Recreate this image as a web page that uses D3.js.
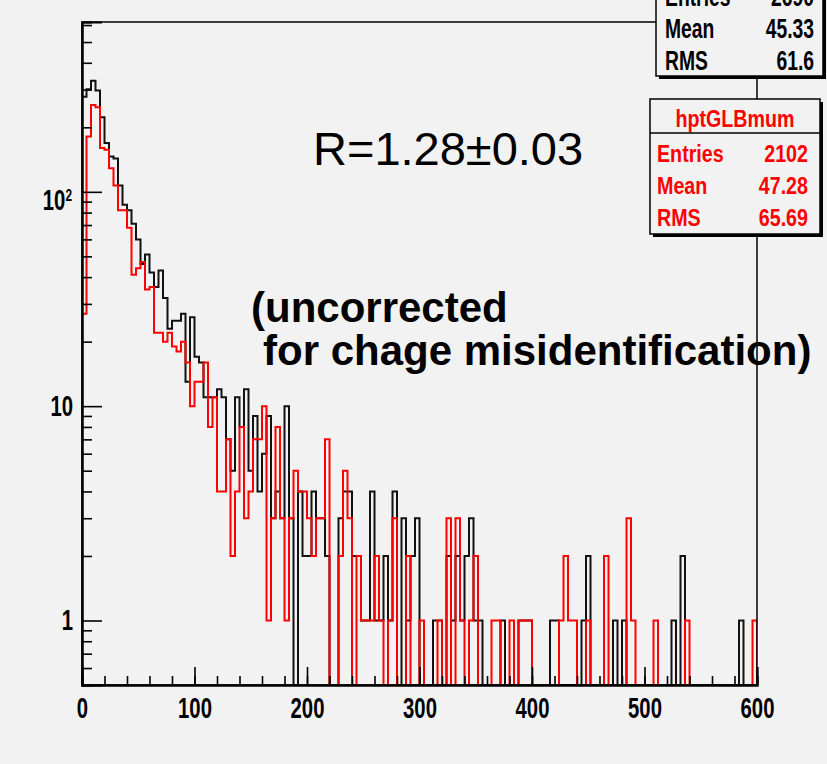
<!DOCTYPE html>
<html>
<head>
<meta charset="utf-8">
<script src="https://cdn.jsdelivr.net/npm/d3@7"></script>
<style>
  body { margin: 0; background: #f2f2f2; }
  svg { display: block; }
</style>
</head>
<body>
<svg id="chart"></svg>
<script>
// bin width 4 GeV, 150 bins from 0 to 600
var binWidth = 4;
var xTicks = [0, 100, 200, 300, 400, 500, 600];
var yTicks = [1, 10, 100];

// hptGLBmup (black)
var blackCounts = [
  278, 301, 330, 297, 223, 169, 146, 143, 107, 87,
  82, 71, 60, 46, 51, 42, 36, 43, 32, 23,
  25, 25, 27, 13, 26, 17, 16, 11, 11, 11,
  12, 11, 7, 5, 11, 8, 12, 5, 9, 4,
  6, 9, 3, 4, 3, 10, 3, 0, 4, 2,
  2, 4, 3, 3, 2, 0, 0, 3, 4, 4,
  2, 2, 1, 1, 4, 1, 1, 2, 1, 4,
  0, 3, 1, 2, 3, 0, 0, 0, 1, 1,
  0, 2, 1, 2, 1, 2, 3, 1, 1, 0,
  0, 0, 0, 1, 0, 0, 0, 1, 1, 1,
  0, 0, 0, 0, 1, 1, 0, 0, 0, 0,
  0, 1, 2, 0, 0, 0, 0, 0, 1, 0,
  1, 0, 0, 0, 0, 0, 0, 0, 0, 0,
  0, 1, 0, 2, 0, 0, 0, 0, 0, 0,
  0, 0, 0, 0, 0, 0, 1, 0, 0, 0
];

// hptGLBmum (red)
var redCounts = [
  27, 181, 254, 248, 160, 157, 129, 107, 82, 82,
  68, 41, 44, 47, 35, 36, 22, 22, 20, 22,
  19, 18, 20, 16, 10, 13, 13, 16, 8, 11,
  4, 4, 7, 2, 4, 8, 3, 4, 7, 7,
  10, 1, 3, 8, 3, 1, 3, 5, 4, 4,
  3, 2, 3, 3, 7, 0, 0, 2, 5, 3,
  0, 2, 1, 1, 1, 2, 1, 0, 1, 3,
  0, 0, 2, 0, 0, 1, 0, 0, 0, 1,
  0, 3, 0, 3, 1, 0, 1, 2, 0, 0,
  0, 1, 1, 0, 0, 1, 0, 1, 1, 1,
  0, 0, 0, 0, 0, 0, 1, 2, 1, 1,
  0, 0, 1, 0, 0, 0, 2, 0, 0, 0,
  0, 3, 1, 0, 0, 0, 0, 1, 0, 0,
  0, 0, 0, 0, 1, 0, 0, 0, 0, 0,
  0, 0, 0, 0, 0, 0, 0, 0, 0, 1
];

var blackStats = [["Entries", "2690"], ["Mean", "45.33"], ["RMS", "61.6"]];
var redTitle = "hptGLBmum";
var redStats = [["Entries", "2102"], ["Mean", "47.28"], ["RMS", "65.69"]];

function main() {
  var svgWidth = 827;
  var svgHeight = 764;
  var frameLeft = 82, frameRight = 757, frameTop = 22, frameBottom = 685;
  var bg = "#f2f2f2";
  var boldFont = "'Liberation Sans', Arial, Helvetica, sans-serif";

  var svg = d3.select("#chart").attr("width", svgWidth).attr("height", svgHeight);
  svg.append("rect").attr("width", svgWidth).attr("height", svgHeight).attr("fill", bg);

  var x = d3.scaleLinear().domain([0, 600]).range([frameLeft, frameRight]);
  var y = d3.scaleLog().domain([0.5, 620]).range([frameBottom, frameTop]);

  svg.append("clipPath").attr("id", "frameClip")
    .append("rect")
    .attr("x", frameLeft).attr("y", frameTop)
    .attr("width", frameRight - frameLeft).attr("height", frameBottom - frameTop);

  function histPoints(counts) {
    var pts = [[x(0), frameBottom]];
    counts.forEach(function (c, i) {
      var yy = c > 0 ? y(c) : frameBottom;
      pts.push([x(i * binWidth), yy]);
      pts.push([x((i + 1) * binWidth), yy]);
    });
    pts.push([x(counts.length * binWidth), frameBottom]);
    return pts;
  }

  var line = d3.line();
  var histNode = svg.append("g").attr("clip-path", "url(#frameClip)");
  histNode.append("path")
    .attr("d", line(histPoints(blackCounts)))
    .attr("fill", "none").attr("stroke", "#111").attr("stroke-width", 2);
  histNode.append("path")
    .attr("d", line(histPoints(redCounts)))
    .attr("fill", "none").attr("stroke", "#ff0000").attr("stroke-width", 2);

  // annotations (under the frame line, as in the ROOT canvas)
  svg.append("text")
    .attr("x", 313).attr("y", 165)
    .style("font-family", boldFont)
    .style("font-size", "47px")
    .attr("fill", "#000")
    .text("R=1.28\u00b10.03");

  var note = svg.append("g")
    .style("font-family", boldFont)
    .style("font-weight", "bold")
    .style("font-size", "42px")
    .attr("fill", "#000");
  note.append("text").attr("x", 251).attr("y", 322).text("(uncorrected");
  note.append("text").attr("x", 263).attr("y", 365).text("for chage misidentification)");

  // frame
  svg.append("rect")
    .attr("x", frameLeft).attr("y", frameTop)
    .attr("width", frameRight - frameLeft).attr("height", frameBottom - frameTop)
    .attr("fill", "none").attr("stroke", "#000").attr("stroke-width", 1.5);

  // x axis, ticks pointing into the frame
  var xMinor = d3.range(0, 601, 20);
  svg.append("g").attr("class", "xminor")
    .attr("transform", `translate(0,${frameBottom})`)
    .call(d3.axisBottom(x).tickValues(xMinor).tickSize(-9).tickFormat(""));
  var xAxisNode = svg.append("g").attr("class", "xaxis")
    .attr("transform", `translate(0,${frameBottom})`)
    .call(d3.axisBottom(x).tickValues(xTicks).tickSize(-18).tickPadding(12).tickFormat(d3.format("d")));

  // y axis, log
  var yMinor = [];
  [0.1, 1, 10, 100].forEach(function (dec) {
    for (var k = 2; k <= 9; k++) {
      var v = k * dec;
      if (v >= 0.5 && v <= 620) yMinor.push(v);
    }
  });
  svg.append("g").attr("class", "yminor")
    .attr("transform", `translate(${frameLeft},0)`)
    .call(d3.axisLeft(y).tickValues(yMinor).tickSize(-10).tickFormat(""));
  var yAxisNode = svg.append("g").attr("class", "yaxis")
    .attr("transform", `translate(${frameLeft},0)`)
    .call(d3.axisLeft(y).tickValues(yTicks).tickSize(-20).tickPadding(9).tickFormat(d3.format("d")));

  svg.selectAll(".xaxis .domain, .yaxis .domain, .xminor .domain, .yminor .domain")
    .attr("stroke", "#000").attr("stroke-width", 2);
  svg.selectAll(".tick line").attr("stroke", "#000").attr("stroke-width", 1.6);
  svg.selectAll(".xaxis text, .yaxis text")
    .attr("fill", "#000")
    .style("font-family", boldFont)
    .style("font-weight", "bold")
    .style("font-size", "29px");

  // narrow the labels like the ROOT condensed font
  xAxisNode.selectAll(".tick text").attr("transform", "scale(0.7,1)");
  yAxisNode.selectAll(".tick text")
    .attr("x", 0)
    .attr("transform", "translate(-9,0) scale(0.7,1)");

  // 10^2 label with superscript
  yAxisNode.selectAll(".tick text")
    .filter(function (d) { return d === 100; })
    .text(null)
    .attr("dy", "0.62em")
    .attr("transform", "translate(-10,0) scale(0.7,1)")
    .call(function (t) {
      t.append("tspan").text("10");
      t.append("tspan").text("2").attr("dy", "-0.55em").style("font-size", "17px");
    });

  function narrowText(g, px, py, str, anchor, size, sx, color) {
    return g.append("text")
      .attr("transform", `translate(${px},${py}) scale(${sx},1)`)
      .attr("text-anchor", anchor)
      .attr("fill", color)
      .style("font-family", boldFont).style("font-weight", "bold")
      .style("font-size", size + "px")
      .text(str);
  }

  // stat boxes
  function statBox(opts) {
    var g = svg.append("g");
    g.append("rect")
      .attr("x", opts.x + 3).attr("y", opts.y + 3)
      .attr("width", opts.w).attr("height", opts.h).attr("fill", "#000");
    g.append("rect")
      .attr("x", opts.x).attr("y", opts.y)
      .attr("width", opts.w).attr("height", opts.h)
      .attr("fill", bg).attr("stroke", "#000").attr("stroke-width", 1.5);
    if (opts.title) {
      g.append("line")
        .attr("x1", opts.x).attr("x2", opts.x + opts.w)
        .attr("y1", opts.sepY).attr("y2", opts.sepY)
        .attr("stroke", "#000").attr("stroke-width", 1.5);
      narrowText(g, opts.x + opts.w / 2, opts.titleY, opts.title, "middle",
        opts.fontSize, opts.sx, opts.color);
    }
    opts.rows.forEach(function (r, i) {
      var by = opts.firstY + i * opts.step;
      narrowText(g, opts.x + opts.padL, by, r[0], "start", opts.fontSize, opts.sx, opts.color);
      narrowText(g, opts.x + opts.w - opts.padR, by, r[1], "end", opts.fontSize, opts.sx, opts.color);
    });
  }

  statBox({ x: 656, y: -80, w: 167, h: 156, rows: blackStats, color: "#000",
    firstY: 6, step: 32, padL: 9, padR: 9, fontSize: 28, sx: 0.69 });
  statBox({ x: 650, y: 99, w: 170, h: 135, rows: redStats, color: "#ff0000",
    title: redTitle, titleY: 127, sepY: 133,
    firstY: 162, step: 32, padL: 7, padR: 12, fontSize: 24, sx: 0.82 });
}
main();
</script>
</body>
</html>
